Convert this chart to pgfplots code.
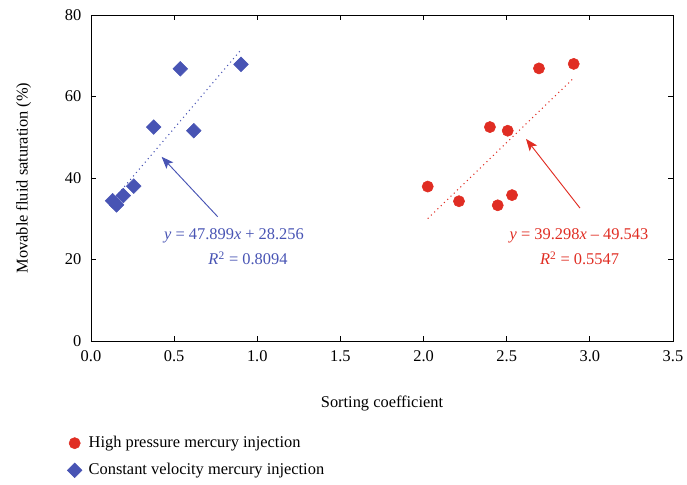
\documentclass[border=0pt]{standalone}
\usepackage{pgfplots}
\pgfplotsset{compat=1.18}
\usepackage{fontspec}
\setmainfont{Liberation Serif}
\usetikzlibrary{arrows.meta}
\definecolor{myred}{RGB}{224,45,35}
\definecolor{myblue}{RGB}{72,84,180}
\begin{document}
\fontsize{12.3}{14}\selectfont
\begin{tikzpicture}[x=0.75pt,y=0.75pt]
\useasboundingbox (-91,-144) rectangle (596,341);
\begin{axis}[
  at={(0,0)}, anchor=south west,
  scale only axis, width=436.5pt, height=244.5pt,
  xmin=0, xmax=3.5, ymin=0, ymax=80,
  xtick={0,0.5,...,3.5}, ytick={0,20,...,80},
  tick align=inside, tick style={black, line width=0.6pt},
  major tick length=4pt,
  xticklabel style={/pgf/number format/fixed, /pgf/number format/fixed zerofill, /pgf/number format/precision=1, yshift=-3pt},
  yticklabel style={xshift=-3pt},
  /pgf/number format/assume math mode=true,
  tick label style={font=\fontsize{12.3}{14}\selectfont},
  label style={font=\fontsize{12.3}{14}\selectfont},
  axis line style={line width=0.7pt},
  xlabel={Sorting coefficient},
  ylabel={Movable fluid saturation (\%)},
  xlabel style={yshift=-17pt},
  ylabel style={yshift=17pt},
  legend style={draw=none, at={(-0.048,-0.275)}, anchor=north west, row sep=6pt, column sep=3pt, font=\fontsize{12.3}{14}\selectfont, cells={anchor=west}},
  legend cell align=left,
  clip=false,
]
\addplot[only marks, mark=*, mark size=4.2pt, color=myred] coordinates {
(2.025,37.9) (2.213,34.3) (2.399,52.5) (2.506,51.6) (2.446,33.3) (2.532,35.8) (2.694,66.9) (2.903,68.0)
};
\addlegendentry{High pressure mercury injection}
\addplot[only marks, mark=square*, mark size=3.9pt, mark options={rotate=45}, color=myblue] coordinates {
(0.902,67.9) (0.537,66.8) (0.377,52.5) (0.618,51.6) (0.257,38.0) (0.194,35.7) (0.154,33.4) (0.13,34.4)
};
\addlegendentry{Constant velocity mercury injection}
\addplot[myblue, line width=0.8pt, dash pattern=on 0.8pt off 2.6pt, forget plot] coordinates {(0.13,34.48) (0.90,71.37)};
\addplot[myred, line width=0.8pt, dash pattern=on 0.8pt off 2.6pt, forget plot] coordinates {(2.025,30.04) (2.903,64.54)};
\draw[myblue, line width=0.7pt, -{Stealth[length=9pt,width=7pt,inset=2pt]}] (axis cs:0.762,30.5) -- (axis cs:0.425,45.2);
\draw[myred, line width=0.7pt, -{Stealth[length=9pt,width=7pt,inset=2pt]}] (axis cs:2.941,32.6) -- (axis cs:2.616,49.6);
\node[myblue] at (axis cs:0.86,25.8) {\textit{y} = 47.899\textit{x} + 28.256};
\node[myblue] at (axis cs:0.944,20.3) {\textit{R}\textsuperscript{2} = 0.8094};
\node[myred] at (axis cs:2.935,25.9) {\textit{y} = 39.298\textit{x} – 49.543};
\node[myred] at (axis cs:2.938,20.3) {\textit{R}\textsuperscript{2} = 0.5547};
\end{axis}
\end{tikzpicture}
\end{document}
